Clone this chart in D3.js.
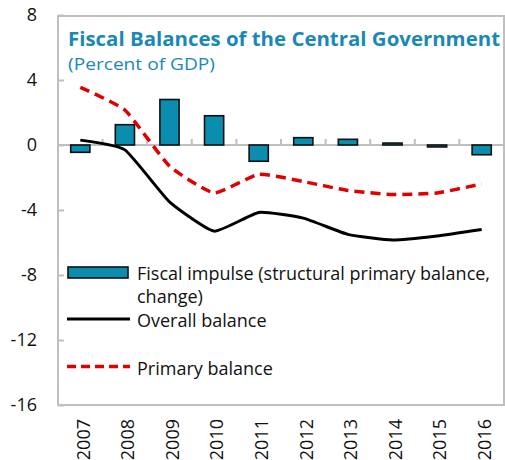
<!DOCTYPE html>
<html>
<head>
<meta charset="utf-8">
<script src="https://cdn.jsdelivr.net/npm/d3@7"></script>
<style>
  body { margin: 0; background: #fff; }
  text { font-family: "Open Sans", "Noto Sans", sans-serif; }
</style>
</head>
<body>
<script>
  // chart data
  let years = ["2007", "2008", "2009", "2010", "2011", "2012", "2013", "2014", "2015", "2016"];
  let fiscalImpulse = [-0.45, 1.25, 2.8, 1.8, -1.0, 0.45, 0.35, 0.12, -0.12, -0.6];
  let overallBalance = [0.3, -0.3, -3.5, -5.3, -4.15, -4.5, -5.5, -5.85, -5.6, -5.2];
  let primaryBalance = [3.55, 2.15, -1.3, -2.95, -1.8, -2.25, -2.8, -3.05, -2.95, -2.4];
  let yTicks = [8, 4, 0, -4, -8, -12, -16];

  (function() {
    let width = 505, height = 460;
    let plotLeft = 58, plotRight = 504, plotTop = 15, plotBottom = 405;

    let svg = d3.select("body")
      .append("svg")
      .attr("width", width)
      .attr("height", height);

    let xScale = d3.scaleBand()
      .domain(years)
      .range([plotLeft, plotRight]);

    let yScale = d3.scaleLinear()
      .domain([-16, 8])
      .range([plotBottom, plotTop]);

    // plot frame
    svg.append("rect")
      .attr("x", plotLeft)
      .attr("y", plotTop + 1)
      .attr("width", plotRight - plotLeft)
      .attr("height", plotBottom - plotTop - 1)
      .attr("fill", "none")
      .attr("stroke", "#bfbfbf")
      .attr("stroke-width", 2);

    // y axis, ticks pointing inwards
    let yAxis = d3.axisRight(yScale)
      .tickValues(yTicks)
      .tickSize(6)
      .tickFormat((d) => String(d));
    let yg = svg.append("g")
      .attr("transform", "translate(" + plotLeft + ",0)")
      .call(yAxis);
    yg.select(".domain").remove();
    yg.selectAll("line").attr("stroke", "#bfbfbf").attr("stroke-width", 2);
    yg.selectAll("text")
      .attr("x", -21)
      .attr("text-anchor", "end")
      .attr("font-size", 18)
      .attr("fill", "#111");

    // zero line with category ticks
    let zero = yScale(0);
    svg.append("line")
      .attr("x1", plotLeft).attr("x2", plotRight)
      .attr("y1", zero).attr("y2", zero)
      .attr("stroke", "#bfbfbf")
      .attr("stroke-width", 2);
    svg.selectAll(".cat-tick")
      .data(years.slice(1))
      .enter()
      .append("line")
      .attr("x1", (d) => xScale(d))
      .attr("x2", (d) => xScale(d))
      .attr("y1", zero)
      .attr("y2", zero - 6)
      .attr("stroke", "#bfbfbf")
      .attr("stroke-width", 2);

    // bars
    let barW = xScale.bandwidth() * 0.43;
    svg.selectAll(".bar")
      .data(fiscalImpulse)
      .enter()
      .append("rect")
      .attr("x", (d, i) => xScale(years[i]) + xScale.bandwidth() / 2 - barW / 2)
      .attr("y", (d) => yScale(Math.max(0, d)))
      .attr("width", barW)
      .attr("height", (d) => Math.abs(yScale(d) - yScale(0)))
      .attr("fill", "#0b8db0")
      .attr("stroke", "#111")
      .attr("stroke-width", 1.6);

    // lines
    let xMid = (i) => xScale(years[i]) + xScale.bandwidth() / 2;
    let line = d3.line()
      .x((d, i) => xMid(i))
      .y((d) => yScale(d))
      .curve(d3.curveCardinal.tension(0.55));

    svg.append("path")
      .datum(overallBalance)
      .attr("d", line)
      .attr("fill", "none")
      .attr("stroke", "#000")
      .attr("stroke-width", 3);

    svg.append("path")
      .datum(primaryBalance)
      .attr("d", line)
      .attr("fill", "none")
      .attr("stroke", "#e00000")
      .attr("stroke-width", 3.5)
      .attr("stroke-dasharray", "10,6");

    // x labels, rotated
    svg.selectAll(".xlab")
      .data(years)
      .enter()
      .append("text")
      .attr("transform", (d) => "translate(" + (xScale(d) + xScale.bandwidth() / 2 + 3) + "," + 419 + ") rotate(-90)")
      .attr("text-anchor", "end")
      .attr("dy", "0.35em")
      .attr("font-size", 18)
      .attr("fill", "#111")
      .text((d) => d);

    // title
    svg.append("text")
      .attr("x", 68)
      .attr("y", 46)
      .attr("font-size", 19)
      .attr("font-weight", "bold")
      .attr("fill", "#1a88b6")
      .attr("textLength", 432)
      .attr("lengthAdjust", "spacingAndGlyphs")
      .text("Fiscal Balances of the Central Government");
    svg.append("text")
      .attr("x", 68)
      .attr("y", 70)
      .attr("font-size", 17)
      .attr("fill", "#1a88b6")
      .attr("textLength", 147)
      .attr("lengthAdjust", "spacingAndGlyphs")
      .text("(Percent of GDP)");

    // legend
    let lg = svg.append("g");
    lg.append("rect")
      .attr("x", 68).attr("y", 267)
      .attr("width", 60).attr("height", 11)
      .attr("fill", "#0b8db0")
      .attr("stroke", "#111")
      .attr("stroke-width", 1.6);
    lg.append("text")
      .attr("x", 137).attr("y", 280)
      .attr("font-size", 18).attr("fill", "#111")
      .attr("textLength", 353)
      .attr("lengthAdjust", "spacingAndGlyphs")
      .text("Fiscal impulse (structural primary balance,");
    lg.append("text")
      .attr("x", 137).attr("y", 303)
      .attr("font-size", 18).attr("fill", "#111")
      .text("change)");
    lg.append("line")
      .attr("x1", 67).attr("x2", 130)
      .attr("y1", 319).attr("y2", 319)
      .attr("stroke", "#000").attr("stroke-width", 3);
    lg.append("text")
      .attr("x", 137).attr("y", 327)
      .attr("font-size", 18).attr("fill", "#111")
      .text("Overall balance");
    lg.append("line")
      .attr("x1", 67).attr("x2", 130)
      .attr("y1", 366.5).attr("y2", 366.5)
      .attr("stroke", "#e00000").attr("stroke-width", 3.5)
      .attr("stroke-dasharray", "9,5");
    lg.append("text")
      .attr("x", 137).attr("y", 375)
      .attr("font-size", 18).attr("fill", "#111")
      .text("Primary balance");
  })();
</script>
</body>
</html>
